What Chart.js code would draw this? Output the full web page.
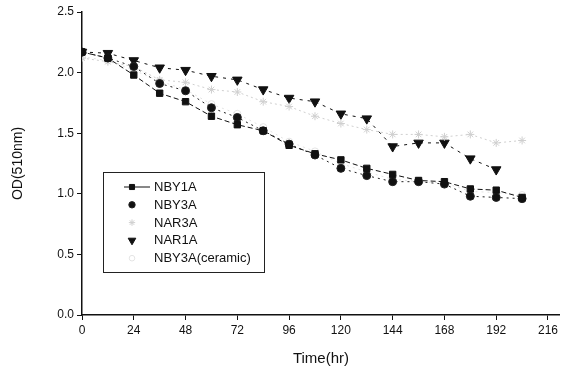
<!DOCTYPE html>
<html><head><meta charset="utf-8">
<script src="https://cdn.jsdelivr.net/npm/chart.js@4"></script>
<style>html,body{margin:0;padding:0;background:#fff}#wrap{width:561px;height:372px}</style>
</head><body><div id="wrap"><canvas id="c" width="561" height="372"></canvas></div>
<script>
const times = [0,12,24,36,48,60,72,84,96,108,120,132,144,156,168,180,192,204];
const NBY1A = [2.17,2.12,1.98,1.83,1.76,1.64,1.57,1.52,1.40,1.33,1.28,1.21,1.16,1.11,1.10,1.04,1.03,0.97];
const NBY3A = [2.17,2.12,2.05,1.91,1.85,1.71,1.63,1.52,1.41,1.32,1.21,1.15,1.10,1.10,1.08,0.98,0.97,0.96];
const NAR3A = [2.12,2.09,2.05,1.94,1.92,1.86,1.84,1.76,1.72,1.64,1.58,1.53,1.49,1.49,1.47,1.49,1.42,1.44];
const NAR1A = [2.17,2.16,2.10,2.04,2.02,1.97,1.94,1.86,1.79,1.76,1.66,1.62,1.39,1.42,1.42,1.29,1.20,null];
const CERAMIC = [2.13,2.10,2.02,1.93,1.86,1.74,1.66,1.55,1.43,1.35,1.25,1.18,1.12,1.10,1.09,1.02,1.01,0.99];
const xTicks = [0,24,48,72,96,120,144,168,192,216];
const yTicks = [0,0.5,1.0,1.5,2.0,2.5];

const pts = arr => times.map((t,i)=>({x:t,y:arr[i]})).filter(p=>p.y!==null);

const datasets = [
  {label:'NBY1A', data:pts(NBY1A), pointStyle:'rect', pointRadius:4.5, borderColor:'#111', backgroundColor:'#111', borderWidth:1, borderDash:[5,3], showLine:true, legendLine:true},
  {label:'NBY3A', data:pts(NBY3A), pointStyle:'circle', pointRadius:4, borderColor:'#222', backgroundColor:'#111', borderWidth:1, borderDash:[2,4], showLine:true},
  {label:'NAR3A', data:pts(NAR3A), pointStyle:'star', pointRadius:4, borderColor:'#cfcfcf', backgroundColor:'#cfcfcf', borderWidth:1, borderDash:[2,3], showLine:true},
  {label:'NAR1A', data:pts(NAR1A), pointStyle:'triangle', pointRotation:180, pointRadius:5.5, borderColor:'#111', backgroundColor:'#111', borderWidth:1, borderDash:[3,5], showLine:true},
  {label:'NBY3A(ceramic)', data:pts(CERAMIC), pointStyle:'circle', pointRadius:3.5, borderColor:'#e4e4e4', backgroundColor:'rgba(255,255,255,0)', borderWidth:1, borderDash:[2,4], showLine:true}
];

const legendPlugin = {
  id:'boxLegend',
  afterDraw(chart){
    const ctx = chart.ctx;
    const x0=103, y0=172, w=161, h=100;
    ctx.save();
    ctx.strokeStyle='#222'; ctx.lineWidth=1;
    ctx.strokeRect(x0+0.5,y0+0.5,w,h);
    ctx.font='13px "Liberation Sans", Arial, sans-serif';
    ctx.textBaseline='middle'; ctx.fillStyle='#111';
    chart.data.datasets.forEach((ds,i)=>{
      const y = 187 + i*17.8;
      if(ds.legendLine){
        ctx.strokeStyle=ds.borderColor; ctx.lineWidth=1; ctx.setLineDash([]);
        ctx.beginPath(); ctx.moveTo(124,y); ctx.lineTo(150,y); ctx.stroke();
      }
      ctx.fillStyle=ds.backgroundColor; ctx.strokeStyle=ds.borderColor; ctx.lineWidth=1;
      Chart.helpers.drawPoint(ctx,{pointStyle:ds.pointStyle, radius:ds.pointRadius*0.8, rotation:ds.pointRotation||0, borderWidth:1}, 132, y);
      ctx.fillStyle='#111';
      ctx.fillText(ds.label, 154, y+0.5);
    });
    ctx.restore();
  }
};

new Chart(document.getElementById('c'),{
  type:'scatter',
  data:{datasets},
  plugins:[legendPlugin],
  options:{
    responsive:false, animation:false,
    layout:{autoPadding:false, padding:{top:12,right:0,left:0,bottom:0}},
    plugins:{legend:{display:false},tooltip:{enabled:false}},
    scales:{
      x:{type:'linear',min:0,max:221.5,
        afterBuildTicks(s){s.ticks = xTicks.map(v=>({value:v}));},
        afterFit(s){s.height=57;},
        grid:{drawOnChartArea:false,drawTicks:true,tickLength:5,color:'#111'},
        border:{display:true,color:'#111',width:1.5},
        ticks:{color:'#111',padding:3,font:{size:12,family:'"Liberation Sans", Arial, sans-serif'},maxRotation:0,autoSkip:false},
        title:{display:true,text:'Time(hr)',color:'#111',padding:{top:4},font:{size:15,family:'"Liberation Sans", Arial, sans-serif'}}
      },
      y:{type:'linear',min:0,max:2.5,
        afterBuildTicks(s){s.ticks = yTicks.map(v=>({value:v}));},
        afterFit(s){s.width=82;},
        grid:{drawOnChartArea:false,drawTicks:true,tickLength:5,color:'#111'},
        border:{display:true,color:'#111',width:1.5},
        ticks:{color:'#111',padding:3,font:{size:12,family:'"Liberation Sans", Arial, sans-serif'},callback:v=>Number(v).toFixed(1)},
        title:{display:true,text:'OD(510nm)',color:'#111',padding:{top:10,bottom:10},font:{size:14,family:'"Liberation Sans", Arial, sans-serif'}}
      }
    }
  }
});
</script></body></html>
